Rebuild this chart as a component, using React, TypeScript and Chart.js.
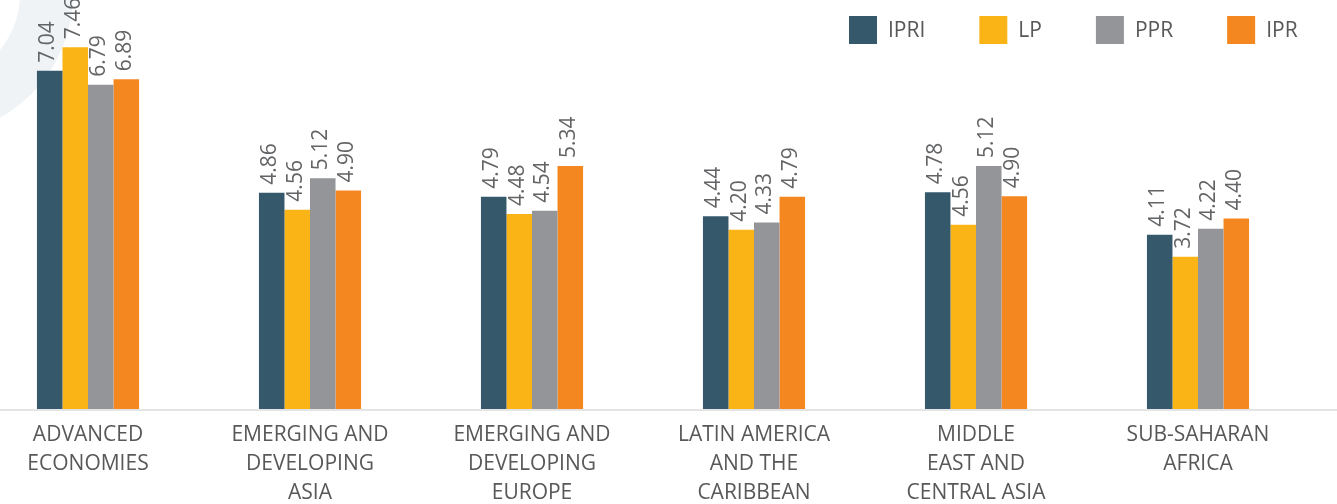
import React, { useEffect, useRef } from "react";
import { Chart, registerables } from "chart.js";

Chart.register(...registerables);

const categories: string[][] = [
  ["ADVANCED", "ECONOMIES"],
  ["EMERGING AND", "DEVELOPING", "ASIA"],
  ["EMERGING AND", "DEVELOPING", "EUROPE"],
  ["LATIN AMERICA", "AND THE", "CARIBBEAN"],
  ["MIDDLE", "EAST AND", "CENTRAL ASIA"],
  ["SUB-SAHARAN", "AFRICA"],
];

const seriesNames = ["IPRI", "LP", "PPR", "IPR"];
const seriesColors = ["#35596b", "#fbb416", "#939598", "#f58720"];

// bar heights as drawn
const ipri = [7.04, 4.86, 4.79, 4.44, 4.87, 4.11];
const lp = [7.46, 4.56, 4.48, 4.2, 4.29, 3.72];
const ppr = [6.79, 5.12, 4.54, 4.33, 5.34, 4.22];
const ipr = [6.89, 4.9, 5.34, 4.79, 4.8, 4.4];

// value labels as printed
const ipriLabels = ["7.04", "4.86", "4.79", "4.44", "4.78", "4.11"];
const lpLabels = ["7.46", "4.56", "4.48", "4.20", "4.56", "3.72"];
const pprLabels = ["6.79", "5.12", "4.54", "4.33", "5.12", "4.22"];
const iprLabels = ["6.89", "4.90", "5.34", "4.79", "4.90", "4.40"];

const FONT = "'Open Sans', 'Noto Sans', sans-serif";
const TEXT_COLOR = "#58585a";

const customPlugin = {
  id: "customDraw",
  beforeDraw(chart: any) {
    const ctx = chart.ctx;
    ctx.save();
    ctx.fillStyle = "#eff3f5";
    ctx.beginPath();
    ctx.arc(-68, -6, 141, 0, Math.PI * 2);
    ctx.arc(-68, -6, 88, 0, Math.PI * 2, true);
    ctx.fill("evenodd");
    ctx.restore();
  },
  beforeDatasetsDraw(chart: any) {
    const ctx = chart.ctx;
    const y = chart.chartArea.bottom + 1;
    ctx.save();
    ctx.strokeStyle = "#e4e4e4";
    ctx.lineWidth = 2;
    ctx.beginPath();
    ctx.moveTo(0, y);
    ctx.lineTo(chart.width, y);
    ctx.stroke();
    ctx.restore();
  },
  afterDatasetsDraw(chart: any) {
    const ctx = chart.ctx;
    ctx.save();
    // value labels
    ctx.font = `21px ${FONT}`;
    ctx.fillStyle = "#636466";
    ctx.textAlign = "left";
    ctx.textBaseline = "alphabetic";
    chart.data.datasets.forEach((ds: any, di: number) => {
      const meta = chart.getDatasetMeta(di);
      meta.data.forEach((bar: any, i: number) => {
        const txt = ds.valueLabels[i];
        ctx.save();
        ctx.translate(bar.x + 4.5, bar.y - 8);
        ctx.rotate(-Math.PI / 2);
        ctx.fillText(txt, 0, 0);
        ctx.restore();
      });
    });
    // legend
    ctx.font = `21px ${FONT}`;
    ctx.textBaseline = "middle";
    let x = 849;
    const boxTop = 16;
    const box = 28;
    chart.data.datasets.forEach((ds: any) => {
      ctx.fillStyle = ds.backgroundColor;
      ctx.fillRect(x, boxTop, box, box);
      ctx.fillStyle = TEXT_COLOR;
      const tx = x + box + 11;
      ctx.fillText(ds.label, tx, boxTop + box / 2 + 1);
      x = tx + ctx.measureText(ds.label).width + 54;
    });
    ctx.restore();
  },
};

export default function App() {
  const ref = useRef<HTMLCanvasElement | null>(null);

  useEffect(() => {
    if (!ref.current) return;
    const values = [ipri, lp, ppr, ipr];
    const labels = [ipriLabels, lpLabels, pprLabels, iprLabels];
    const chart = new Chart(ref.current, {
      type: "bar",
      data: {
        labels: categories as any,
        datasets: seriesNames.map((name, i) => ({
          label: name,
          data: values[i],
          valueLabels: labels[i],
          backgroundColor: seriesColors[i],
          borderWidth: 0,
          barPercentage: 1,
          categoryPercentage: 0.46,
          base: 1,
          clip: false,
        })) as any,
      },
      options: {
        animation: false,
        responsive: false,
        maintainAspectRatio: false,
        layout: { padding: { left: 88, right: 139, top: 17, bottom: 0 } },
        plugins: {
          legend: { display: false },
          tooltip: { enabled: false },
        },
        scales: {
          x: {
            offset: false,
            grid: { display: false, drawTicks: false, tickLength: 0 },
            border: { display: false },
            ticks: {
              color: TEXT_COLOR,
              font: { family: FONT, size: 21, lineHeight: 1.37 },
              padding: 12,
              maxRotation: 0,
              minRotation: 0,
              autoSkip: false,
            },
            afterFit: (scale: any) => {
              scale.height = 95;
            },
          },
          y: {
            display: false,
            min: 1,
            max: 8,
          },
        },
      },
      plugins: [customPlugin],
    });
    return () => chart.destroy();
  }, []);

  return (
    <div style={{ position: "fixed", left: 0, top: 0, width: 1337, height: 504, background: "#ffffff" }}>
      <canvas ref={ref} width={1337} height={504} style={{ width: 1337, height: 504, display: "block" }} />
    </div>
  );
}
